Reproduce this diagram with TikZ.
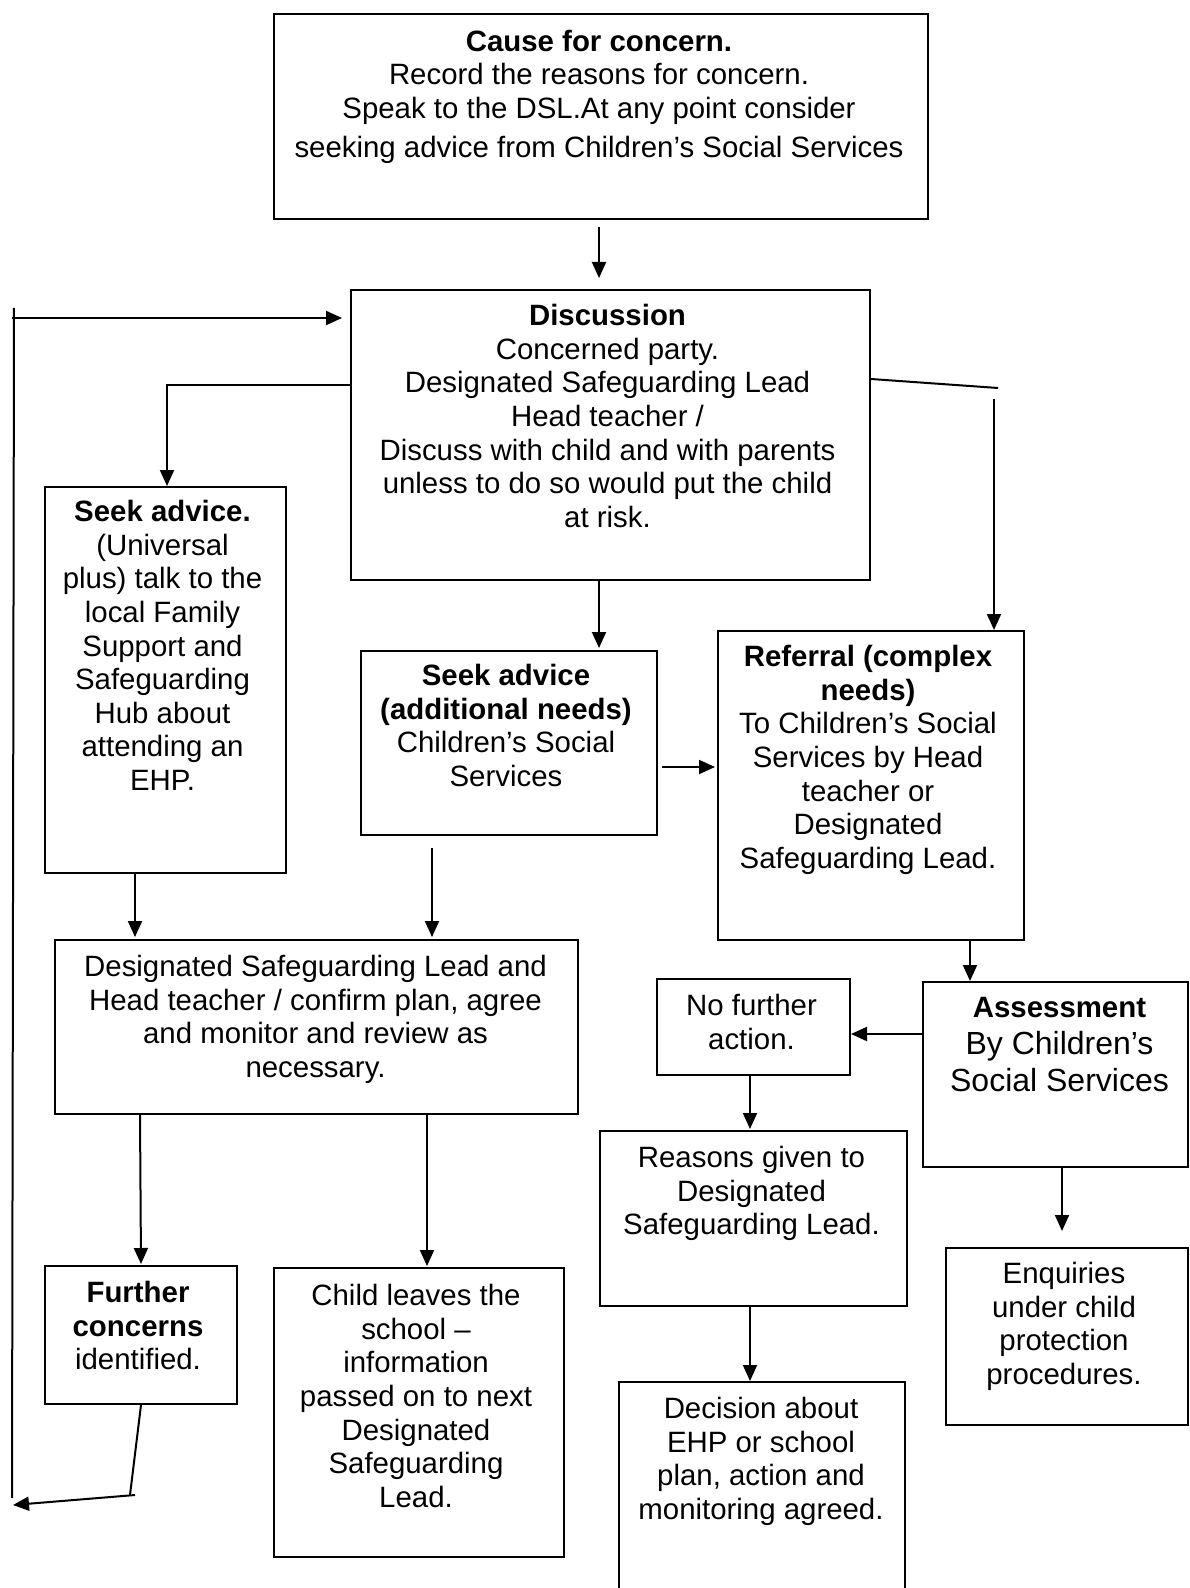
\documentclass[tikz,border=0pt]{standalone}
\usepackage{fontspec}
\setmainfont{Liberation Sans}
\usetikzlibrary{arrows.meta,calc}

\tikzset{
  box/.style={draw, line width=1pt, anchor=north west, inner sep=0pt},
  txt/.style={anchor=north, align=center, inner sep=0pt, font=\fontsize{14.7}{16.8}\selectfont, execute at begin node=\strut},
  arr/.style={-{Triangle[width=7pt,length=8pt]}, line width=1pt},
  wire/.style={line width=1pt}
}
\newcommand{\biggertext}{\fontsize{16}{18.2}\selectfont}

\begin{document}
\begin{tikzpicture}[x=0.5pt,y=-0.5pt]
 \useasboundingbox (0,0) rectangle (1189,1588);
 % boxes
 \node[box, minimum width=327pt, minimum height=102.5pt] (cause) at (273,13) {};
 \node[box, minimum width=259.5pt, minimum height=145pt] (disc) at (350,289) {};
 \node[box, minimum width=120.5pt, minimum height=193pt] (seek) at (44,486) {};
 \node[box, minimum width=148pt, minimum height=92pt] (addl) at (360,650) {};
 \node[box, minimum width=153pt, minimum height=154.5pt] (refer) at (717,630) {};
 \node[box, minimum width=261.5pt, minimum height=87pt] (dsl) at (54,939) {};
 \node[box, minimum width=96pt, minimum height=69pt] (further) at (44,1265) {};
 \node[box, minimum width=145pt, minimum height=144.5pt] (leaves) at (273,1267) {};
 \node[box, minimum width=132.5pt, minimum height=92.5pt] (assess) at (922,981) {};
 \node[box, minimum width=96.5pt, minimum height=48pt] (nofurther) at (656,978) {};
 \node[box, minimum width=153.5pt, minimum height=87.5pt] (reasons) at (599,1130) {};
 \node[box, minimum width=143pt, minimum height=109.5pt] (decision) at (618,1381) {};
 \node[box, minimum width=121pt, minimum height=88.5pt] (enquiries) at (945,1247) {};

 % texts
 \node[txt] (causetxt) at ($(cause.north)+(-2,16.5)$) {\textbf{Cause for concern.}\\Record the reasons for concern.\\Speak to the DSL.At any point consider\\[3pt]seeking advice from Children’s Social Services};
 \node[txt] (disctxt) at ($(disc.north)+(-3,15)$) {\textbf{Discussion}\\Concerned party.\\Designated Safeguarding Lead\\Head teacher /\\Discuss with child and with parents\\unless to do so would put the child\\at risk.};
 \node[txt] (seektxt) at ($(seek.north)+(-3,14)$) {\textbf{Seek advice.}\\(Universal\\plus) talk to the\\local Family\\Support and\\Safeguarding\\Hub about\\attending an\\EHP.};
 \node[txt] (addltxt) at ($(addl.north)+(-3,14)$) {\textbf{Seek advice}\\\textbf{(additional needs)}\\Children’s Social\\Services};
 \node[txt] (refertxt) at ($(refer.north)+(-3,15)$) {\textbf{Referral (complex}\\\textbf{needs)}\\To Children’s Social\\Services by Head\\teacher or\\Designated\\Safeguarding Lead.};
 \node[txt] (dsltxt) at ($(dsl.north)+(-1,16)$) {Designated Safeguarding Lead and\\Head teacher / confirm plan, agree\\and monitor and review as\\necessary.};
 \node[txt] (furthertxt) at ($(further.north)+(-3,16)$) {\textbf{Further}\\\textbf{concerns}\\identified.};
 \node[txt] (leavestxt) at ($(leaves.north)+(-3,17)$) {Child leaves the\\school –\\information\\passed on to next\\Designated\\Safeguarding\\Lead.};
 \node[txt] (assesstxt) at ($(assess.north)+(4,15.5)$) {\textbf{Assessment}\\[2pt]\biggertext By Children’s\\[1.5pt]\biggertext Social Services};
 \node[txt] (nofurthertxt) at ($(nofurther.north)+(-2,16)$) {No further\\action.};
 \node[txt] (reasonstxt) at ($(reasons.north)+(-2,16)$) {Reasons given to\\Designated\\Safeguarding Lead.};
 \node[txt] (decisiontxt) at ($(decision.north)+(-1,16)$) {Decision about\\EHP or school\\plan, action and\\monitoring agreed.};
 \node[txt] (enquiriestxt) at ($(enquiries.north)+(-3,15)$) {Enquiries\\under child\\protection\\procedures.};

 % loop back to the discussion
 \coordinate (looptop) at (14,308);
 \coordinate (loopbot) at (12,1498);
 \coordinate (loopin) at (12,318);
 \coordinate (loopkink) at (130,1495);
 \coordinate (loopfoot) at (135,1495);
 \coordinate (loopend) at (13,1505);
 \draw[wire] (looptop) -- (loopbot);
 \draw[arr, shorten >=4pt] (loopin) -- (loopin -| disc.west);
 \draw[wire] (further.south) -- (loopkink);
 \draw[arr] (loopfoot) -- (loopend);

 % right branch of the discussion
 \coordinate (rightend) at (998,388);
 \coordinate (rightdrop) at (994,399);
 \draw[wire] ($(disc.north east)+(0,90)$) -- (rightend);
 \draw[arr] (rightdrop) -- (rightdrop |- refer.north);

 % arrows
 \draw[arr, shorten <=3.5pt, shorten >=5.5pt] ($(cause.south west)+(326,0)$) -- ($(disc.north west)+(249,0)$);
 \draw[arr] ($(disc.north west)+(0,96)$) -| ($(seek.north west)+(123,0)$);
 \draw[arr, shorten >=1pt] ($(disc.south west)+(249,0)$) -- ($(addl.north west)+(239,0)$);
 \draw[arr, shorten <=2pt, shorten >=1pt] ($(addl.north east)+(0,117)$) -- ($(refer.north west)+(0,137)$);
 \draw[arr, shorten >=1pt] ($(seek.south west)+(91,0)$) -- ($(dsl.north west)+(81,0)$);
 \draw[arr, shorten <=6pt, shorten >=1pt] ($(addl.south west)+(72,0)$) -- ($(dsl.north west)+(378,0)$);
 \draw[arr, shorten >=0.5pt] ($(dsl.south west)+(86,0)$) -- (further.north);
 \draw[arr, shorten >=0.5pt] ($(dsl.south west)+(373,0)$) -- ($(leaves.north west)+(154,0)$);
 \draw[arr] ($(refer.south west)+(253,0)$) -- ($(assess.north west)+(48,0)$);
 \draw[arr] ($(assess.north west)+(0,53)$) -- ($(nofurther.north east)+(0,56)$);
 \draw[arr, shorten >=0.5pt] ($(nofurther.south west)+(94,0)$) -- ($(reasons.north west)+(151,0)$);
 \draw[arr] ($(reasons.south west)+(151,0)$) -- ($(decision.north west)+(132,0)$);
 \draw[arr, shorten >=8pt] ($(assess.south west)+(140,0)$) -- ($(enquiries.north west)+(117,0)$);
\end{tikzpicture}
\end{document}
